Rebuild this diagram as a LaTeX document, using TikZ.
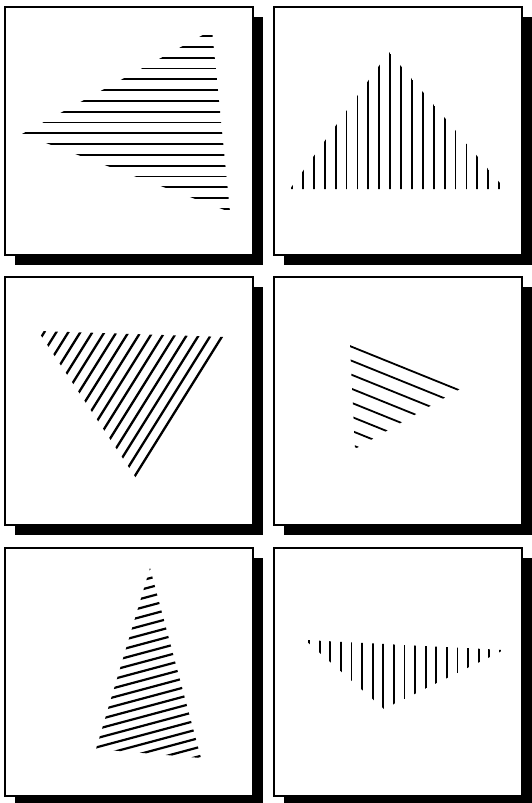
\documentclass[tikz,border=0pt]{standalone}
\begin{document}
\begin{tikzpicture}[x=1pt, y=-1pt]
    \def\S{248}
    \def\D{10}
    \tikzset{hatch/.style={line width=1.8pt}}
    \useasboundingbox (0,0) rectangle (532,803);

    % Panels with drop shadow
    \foreach \px/\py in {5/7, 274/7, 5/277, 274/277, 5/548, 274/548} {
        \fill (\px+\D,\py+\D) rectangle ++(\S,\S);
        \draw[line width=1.5pt, fill=white] (\px,\py) rectangle ++(\S,\S);
    }

    % Horizontal hatching
    \begin{scope}
        \clip (212,30) -- (22,134) -- (230,212) -- cycle;
        \foreach \k in {0,...,16}
            \draw[hatch] (0,36+10.8*\k) -- (266,36+10.8*\k);
    \end{scope}

    % Vertical hatching
    \begin{scope}
        \clip (290,189) -- (389,52) -- (505,189) -- cycle;
        \foreach \k in {0,...,19}
            \draw[hatch] (292+10.9*\k,40) -- (292+10.9*\k,200);
    \end{scope}

    % Steep diagonal hatching
    \begin{scope}
        \clip (38,331) -- (226,337) -- (136,478) -- cycle;
        \begin{scope}[shift={(136,477)}, rotate=-32]
            \foreach \k in {0,...,17}
                \draw[hatch, line width=2.3pt] (-1.5-10.2*\k,-260) -- (-1.5-10.2*\k,20);
        \end{scope}
    \end{scope}

    % Falling diagonal hatching
    \begin{scope}
        \clip (350,345) -- (460,389) -- (355,449) -- cycle;
        \begin{scope}[shift={(351,346.5)}, rotate=-22]
            \foreach \k in {0,...,7}
                \draw[hatch] (-20,13*\k) -- (160,13*\k);
        \end{scope}
    \end{scope}

    % Shallow diagonal hatching
    \begin{scope}
        \clip (150,568) -- (96,749) -- (201,758) -- cycle;
        \begin{scope}[shift={(150,569)}, rotate=15]
            \foreach \k in {0,...,22}
                \draw[hatch, line width=2.2pt] (-150,8.8*\k) -- (150,8.8*\k);
        \end{scope}
    \end{scope}

    % Vertical hatching, flat triangle
    \begin{scope}
        \clip (305,640) -- (504,650) -- (384,709) -- cycle;
        \foreach \k in {0,...,18}
            \draw[hatch] (309+10.6*\k,630) -- (309+10.6*\k,720);
    \end{scope}
\end{tikzpicture}
\end{document}
